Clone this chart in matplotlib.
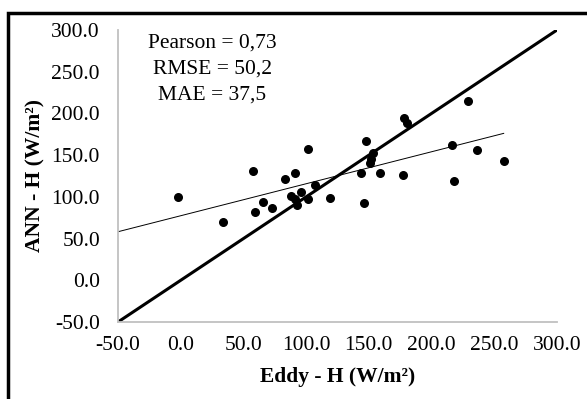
import numpy as np
import matplotlib
matplotlib.use("Agg")
import matplotlib.pyplot as plt
from matplotlib.patches import Rectangle

# Data
eddy = [-2, 34, 58, 59, 66, 73, 83, 91, 88, 91, 93, 96, 101.5, 101.5, 107,
        119, 144, 146, 148, 151, 152, 153, 159, 177.5, 178, 180.5, 216, 218,
        229, 236, 257.5]
ann = [100, 70, 131, 82, 94, 87, 121, 128, 101, 97, 90, 106, 157, 97, 114,
       99, 129, 93, 167, 141, 145, 153, 128, 126, 194, 189, 162, 119, 215,
       156, 143]
ticks = [-50, 0, 50, 100, 150, 200, 250, 300]
stats = ["Pearson = 0,73", "RMSE = 50,2", "MAE = 37,5"]

plt.rcParams['font.family'] = ['Liberation Serif', 'DejaVu Serif']

fig = plt.figure(figsize=(5.87, 3.99), dpi=100)
ax = fig.add_axes([118 / 587, 1 - 322 / 399, 439 / 587, 292 / 399])

# 1:1 line
ax.plot([ticks[0], ticks[-1]], [ticks[0], ticks[-1]], color='black', linewidth=2.2, zorder=2)

# linear trend line
slope, intercept = np.polyfit(eddy, ann, 1)
xs = np.array([ticks[0], max(eddy)])
ax.plot(xs, slope * xs + intercept, color='black', linewidth=0.7, zorder=2)

ax.scatter(eddy, ann, s=30, color='black', zorder=3)

ax.set_xlim(ticks[0], ticks[-1])
ax.set_ylim(ticks[0], ticks[-1])
ax.set_xticks(ticks)
ax.set_yticks(ticks)
ax.set_xticklabels([f"{t:.1f}" for t in ticks])
ax.set_yticklabels([f"{t:.1f}" for t in ticks])
ax.tick_params(length=0, labelsize=15.5)
ax.tick_params(axis='x', pad=10)
ax.tick_params(axis='y', pad=13)

for side in ['top', 'right']:
    ax.spines[side].set_visible(False)
for side in ['left', 'bottom']:
    ax.spines[side].set_color('#c0c0c0')
    ax.spines[side].set_linewidth(1.3)

ax.set_xlabel("Eddy - H (W/m²)", fontsize=15.5, fontweight='bold', labelpad=9)
ax.set_ylabel("ANN - H (W/m²)", fontsize=15.5, fontweight='bold', labelpad=4)

ax.text(25, 296, "\n".join(stats), ha='center', va='top', fontsize=15.5,
        linespacing=1.5)

# outer frame (cropped at right and bottom in the reference)
fig.patches.append(Rectangle((8 / 587, -0.1), 1.2, 1 - 13 / 399 + 0.1,
                             transform=fig.transFigure, fill=False,
                             edgecolor='black', linewidth=2.5))

fig.savefig("out.png", dpi=100)
